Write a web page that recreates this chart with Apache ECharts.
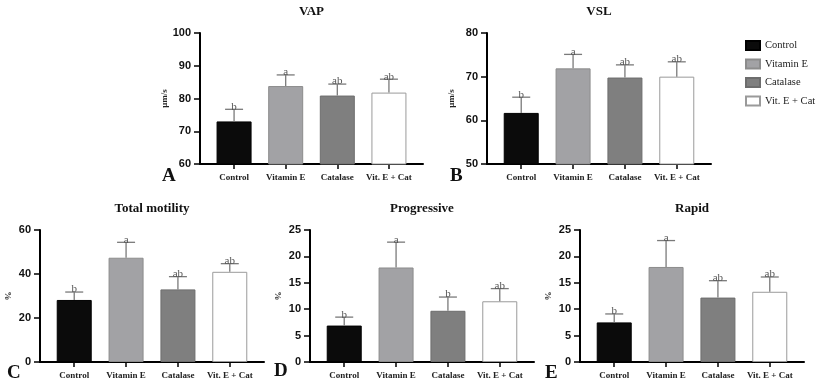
<!DOCTYPE html>
<html>
<head>
<meta charset="utf-8">
<script src="https://cdn.jsdelivr.net/npm/echarts@6/dist/echarts.min.js"></script>
<style>html,body{margin:0;padding:0;background:#fff;}#c{width:818px;height:383px;}</style>
</head>
<body>
<div id="c"></div>
<script>
// ---- data ----
const categories = ['Control', 'Vitamin E', 'Catalase', 'Vit. E + Cat'];
const vapMean = [73.0, 83.8, 80.9, 81.8];
const vapSd = [3.7, 3.4, 3.5, 4.1];
const vapLetters = ['b', 'a', 'ab', 'ab'];
const vslMean = [61.7, 71.9, 69.8, 70.0];
const vslSd = [3.6, 3.2, 2.9, 3.4];
const vslLetters = ['b', 'a', 'ab', 'ab'];
const motMean = [28.2, 47.4, 33.0, 41.0];
const motSd = [3.6, 7.0, 5.8, 3.7];
const motLetters = ['b', 'a', 'ab', 'ab'];
const progMean = [6.9, 17.9, 9.7, 11.5];
const progSd = [1.6, 4.8, 2.6, 2.4];
const progLetters = ['b', 'a', 'b', 'ab'];
const rapMean = [7.5, 18.0, 12.2, 13.3];
const rapSd = [1.6, 5.0, 3.2, 2.8];
const rapLetters = ['b', 'a', 'ab', 'ab'];
const yTicksVap = [60, 100, 10];
const yTicksVsl = [50, 80, 10];
const yTicksMot = [0, 60, 20];
const yTicksProg = [0, 25, 5];
const yTicksRap = [0, 25, 5];

const panels = [
  {title: 'VAP', letter: 'A', unit: 'μm/s', mean: vapMean, sd: vapSd, letters: vapLetters, ticks: yTicksVap,
   grid: {left: 200, top: 33, width: 223, height: 131}, letterPos: [162, 176], nameGap: 31},
  {title: 'VSL', letter: 'B', unit: 'μm/s', mean: vslMean, sd: vslSd, letters: vslLetters, ticks: yTicksVsl,
   grid: {left: 487, top: 33, width: 224, height: 131}, letterPos: [450, 176], nameGap: 31},
  {title: 'Total motility', letter: 'C', unit: '%', mean: motMean, sd: motSd, letters: motLetters, ticks: yTicksMot,
   grid: {left: 40, top: 230, width: 224, height: 132}, letterPos: [7, 373], nameGap: 27},
  {title: 'Progressive', letter: 'D', unit: '%', mean: progMean, sd: progSd, letters: progLetters, ticks: yTicksProg,
   grid: {left: 310, top: 230, width: 224, height: 132}, letterPos: [274, 371], nameGap: 27},
  {title: 'Rapid', letter: 'E', unit: '%', mean: rapMean, sd: rapSd, letters: rapLetters, ticks: yTicksRap,
   grid: {left: 580, top: 230, width: 224, height: 132}, letterPos: [545, 373], nameGap: 27}
];

const fills = ['#0b0b0b', '#a2a2a5', '#7f7f7f', '#ffffff'];
const borders = ['#000000', '#8c8c8c', '#6d6d6d', '#9a9a9a'];
const serif = '"Liberation Serif", "Times New Roman", serif';
const sans = '"Liberation Sans", Arial, sans-serif';

const grids = [], xAxes = [], yAxes = [], series = [], graphics = [];
panels.forEach((p, i) => {
  grids.push(Object.assign({containLabel: false}, p.grid));
  xAxes.push({
    type: 'value', gridIndex: i, min: -0.66, max: 3.66,
    axisLine: {show: true, onZero: false, lineStyle: {color: '#000', width: 2}},
    axisTick: {show: true, customValues: [0, 1, 2, 3], length: 5, lineStyle: {color: '#000', width: 1.5}},
    axisLabel: {show: true, customValues: [0, 1, 2, 3], formatter: v => categories[Math.round(v)],
      fontFamily: serif, fontWeight: 'bold', fontSize: 9, color: '#222', margin: 9},
    splitLine: {show: false}
  });
  yAxes.push({
    type: 'value', gridIndex: i, min: p.ticks[0], max: p.ticks[1], interval: p.ticks[2],
    name: p.unit, nameLocation: 'middle', nameRotate: 90, nameGap: p.nameGap,
    nameTextStyle: {fontFamily: serif, fontWeight: 'bold', fontSize: 9, color: '#222'},
    axisLine: {show: true, onZero: false, lineStyle: {color: '#000', width: 2}},
    axisTick: {show: true, length: 6, lineStyle: {color: '#000', width: 1.5}},
    axisLabel: {fontFamily: sans, fontWeight: 'bold', fontSize: 11, color: '#111', margin: 9},
    splitLine: {show: false}
  });
  categories.forEach((c, k) => {
    series.push({
      type: 'bar', name: c, xAxisIndex: i, yAxisIndex: i,
      barWidth: 35, barGap: '-100%',
      itemStyle: {color: fills[k], borderColor: borders[k], borderWidth: 1},
      data: [[k, p.mean[k]]],
      z: 2
    });
  });
  series.push({
    type: 'custom', xAxisIndex: i, yAxisIndex: i, z: 3,
    data: p.mean.map((m, k) => [k, m, m + p.sd[k], k]),
    renderItem: (params, api) => {
      const k = api.value(3);
      const base = api.coord([api.value(0), api.value(1)]);
      const top = api.coord([api.value(0), api.value(2)]);
      return {
        type: 'group',
        children: [
          {type: 'line', shape: {x1: base[0], y1: base[1], x2: top[0], y2: top[1]},
           style: {stroke: '#7a7a7a', lineWidth: 1.3}},
          {type: 'line', shape: {x1: top[0] - 9, y1: top[1], x2: top[0] + 9, y2: top[1]},
           style: {stroke: '#7a7a7a', lineWidth: 1.3}},
          {type: 'text', x: top[0], y: top[1] + 3,
           style: {text: p.letters[k], fill: '#555', font: '11px ' + serif, textAlign: 'center', textVerticalAlign: 'bottom'}}
        ]
      };
    }
  });
  graphics.push({
    type: 'text', x: p.grid.left + p.grid.width / 2, y: p.grid.top - 21,
    style: {text: p.title, fill: '#111', font: 'bold 13px ' + serif, textAlign: 'center', textVerticalAlign: 'middle'}
  });
  graphics.push({
    type: 'text', x: p.letterPos[0], y: p.letterPos[1],
    style: {text: p.letter, fill: '#111', font: 'bold 19px ' + serif, textAlign: 'left', textVerticalAlign: 'middle'}
  });
});

const chart = echarts.init(document.getElementById('c'), null, {renderer: 'canvas'});
chart.setOption({
  animation: false,
  backgroundColor: '#fff',
  grid: grids, xAxis: xAxes, yAxis: yAxes, series: series,
  legend: {
    data: categories, orient: 'vertical', left: 740, top: 35,
    itemWidth: 14, itemHeight: 9, itemGap: 7.5, icon: 'rect',
    textStyle: {fontFamily: serif, fontSize: 10.5, color: '#222'}
  },
  graphic: graphics
});
</script>
</body>
</html>
